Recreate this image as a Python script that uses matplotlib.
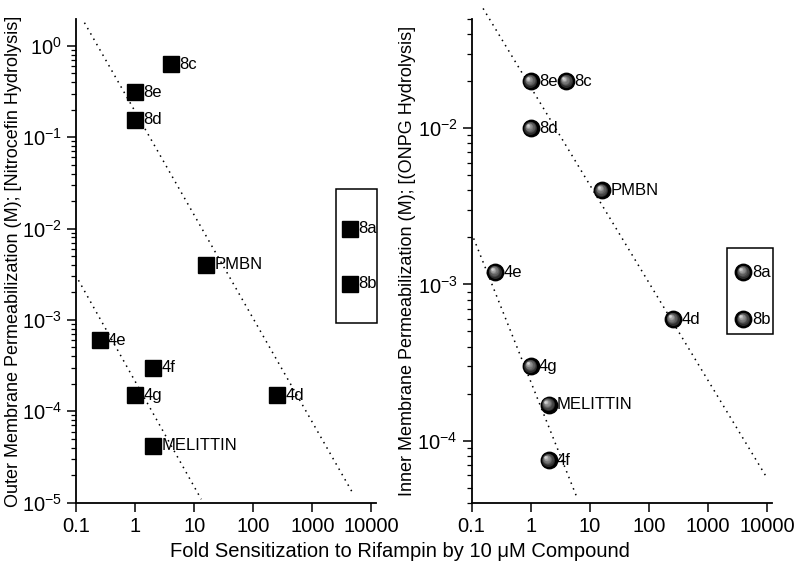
import math

import matplotlib.pyplot as plt
import matplotlib.transforms as mtransforms
from matplotlib.patches import Rectangle

plt.rcParams["font.family"] = ["Liberation Sans", "DejaVu Sans"]
plt.rcParams["mathtext.default"] = "regular"

# outer membrane (nitrocefin) panel
om_names = ["8c", "8e", "8d", "PMBN", "4e", "4f", "4g", "4d", "MELITTIN"]
om_fold = [4, 1, 1, 16, 0.25, 2, 1, 256, 2]
om_conc = [0.63, 0.31, 0.156, 0.004, 6e-4, 3e-4, 1.5e-4, 1.5e-4, 4.2e-5]
om_box_names = ["8a", "8b"]
om_box_fold = [4400, 4400]
om_box_conc = [0.01, 0.0025]
om_fit1_x = [0.139, 4730]
om_fit1_y = [1.79, 1.31e-5]
om_fit2_x = [0.11, 13.2]
om_fit2_y = [2.72e-3, 1.09e-5]

# inner membrane (ONPG) panel
im_names = ["8e", "8c", "8d", "PMBN", "4e", "4d", "4g", "MELITTIN", "4f"]
im_fold = [1, 4, 1, 16, 0.25, 256, 1, 2, 2]
im_conc = [0.02, 0.02, 0.01, 0.004, 0.0012, 6e-4, 3e-4, 1.7e-4, 7.5e-5]
im_box_names = ["8a", "8b"]
im_box_fold = [4000, 4000]
im_box_conc = [0.0012, 6e-4]
im_fit1_x = [0.156, 9890]
im_fit1_y = [0.0585, 5.8e-5]
im_fit2_x = [0.108, 6.19]
im_fit2_y = [1.97e-3, 4.23e-5]

x_ticks = [0.1, 1, 10, 100, 1000, 10000]
x_tick_labels = ["0.1", "1", "10", "100", "1000", "10000"]


def style_axes(ax, ylim, yticks, ylabel, label_x):
    ax.set_xscale("log")
    ax.set_yscale("log")
    ax.set_xlim(0.1, 12000)
    ax.set_ylim(*ylim)
    ax.set_xticks(x_ticks)
    ax.set_xticklabels(x_tick_labels)
    ax.set_yticks(yticks)
    ax.set_yticklabels([r"$10^{%d}$" % round(math.log10(t)) for t in yticks])
    for s in ["top", "right"]:
        ax.spines[s].set_visible(False)
    for s in ["left", "bottom"]:
        ax.spines[s].set_linewidth(1.3)
    ax.tick_params(which="major", direction="out", length=6.5, width=1.1, labelsize=14.5)
    ax.tick_params(which="minor", direction="out", length=3.5, width=0.9)
    ax.set_ylabel(ylabel, fontsize=13)
    ax.yaxis.set_label_coords(label_x, 0.5)


def label(ax, x, y, txt):
    ax.annotate(txt, (x, y), xytext=(6, 0), textcoords="offset points",
                ha="left", va="center", fontsize=12)


def spheres(ax, xs, ys):
    ax.scatter(xs, ys, s=140, color="black", zorder=3)
    n = 8
    for i in range(n):
        f = (i + 1) / n
        tr = mtransforms.offset_copy(ax.transData, fig=ax.figure,
                                     x=-2.2 * f, y=2.2 * f, units="points")
        grey = 0.08 + 0.75 * f
        size = 110 * (1 - f) ** 2 + 3
        ax.scatter(xs, ys, s=size, color=(grey, grey, grey), transform=tr,
                   zorder=4, linewidths=0)


fig = plt.figure(figsize=(8, 5.73), dpi=100)
ax1 = fig.add_axes([0.095, 0.1227, 0.375, 0.844])
ax2 = fig.add_axes([0.5896, 0.1227, 0.375, 0.844])

# left panel
ax1.plot(om_fit1_x, om_fit1_y, ls=(0, (1, 3)), color="black", lw=1.1, clip_on=False)
ax1.plot(om_fit2_x, om_fit2_y, ls=(0, (1, 3)), color="black", lw=1.1, clip_on=False)
ax1.plot(om_fold, om_conc, "s", color="black", ms=11, zorder=3)
ax1.plot(om_box_fold, om_box_conc, "s", color="black", ms=11, zorder=3, clip_on=False)
for n, x, y in zip(om_names, om_fold, om_conc):
    label(ax1, x, y, n)
for n, x, y in zip(om_box_names, om_box_fold, om_box_conc):
    label(ax1, x, y, n)
ax1.add_patch(Rectangle((0.866, 0.371), 0.137, 0.277, transform=ax1.transAxes,
                        fill=False, lw=1.1, ec="black", clip_on=False))
style_axes(ax1, (1e-5, 1.96), [1e-5, 1e-4, 1e-3, 1e-2, 1e-1, 1],
           "Outer Membrane Permeabilization (M); [Nitrocefin Hydrolysis]", -0.18)

# right panel
ax2.plot(im_fit1_x, im_fit1_y, ls=(0, (1, 3)), color="black", lw=1.1, clip_on=False)
ax2.plot(im_fit2_x, im_fit2_y, ls=(0, (1, 3)), color="black", lw=1.1, clip_on=False)
spheres(ax2, im_fold, im_conc)
spheres(ax2, im_box_fold, im_box_conc)
for n, x, y in zip(im_names, im_fold, im_conc):
    label(ax2, x, y, n)
for n, x, y in zip(im_box_names, im_box_fold, im_box_conc):
    label(ax2, x, y, n)
ax2.add_patch(Rectangle((0.852, 0.349), 0.153, 0.178, transform=ax2.transAxes,
                        fill=False, lw=1.1, ec="black", clip_on=False))
style_axes(ax2, (4e-5, 0.05), [1e-4, 1e-3, 1e-2],
           "Inner Membrane Permeabilization (M); [(ONPG Hydrolysis]", -0.185)

fig.text(0.5, 0.038, "Fold Sensitization to Rifampin by 10 \u03bcM Compound",
         ha="center", va="center", fontsize=14.5)

fig.savefig("out.png", dpi=100)
